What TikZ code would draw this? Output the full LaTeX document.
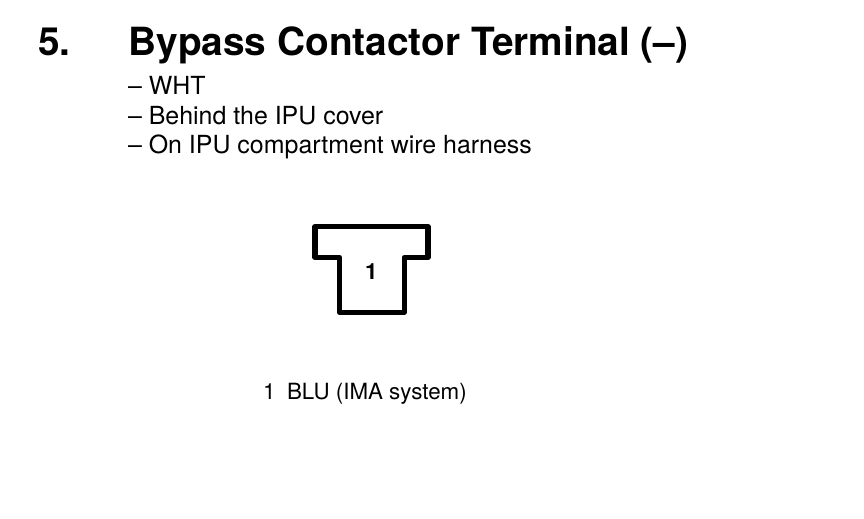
\documentclass[tikz,border=0pt]{standalone}
\usepackage{fontspec}
\setmainfont{TeX Gyre Heros}
\tikzset{px/.style={x=0.75pt,y=-0.75pt},
 lab/.style={anchor=base west,inner sep=0pt,outer sep=0pt,font=\fontsize{18.7pt}{22pt}\selectfont},
 small/.style={anchor=base west,inner sep=0pt,outer sep=0pt,font=\fontsize{16.75pt}{20pt}\selectfont},
 head/.style={anchor=base west,inner sep=0pt,outer sep=0pt,font=\fontsize{29.1pt}{33pt}\bfseries\selectfont}}
\begin{document}
\begin{tikzpicture}[px]
\useasboundingbox (0,0) rectangle (864,518);
\node[head] (num) at (38,55) {5.};
\node[head] (title) at (128.5,55) {Bypass Contactor Terminal (–)};
\node[lab] (l1) at (128,94.5) {– WHT};
\node[lab] (l2) at (128,124) {– Behind the IPU cover};
\node[lab] (l3) at (128,153) {– On IPU compartment wire harness};
\draw[line width=4pt,line join=round] (315,226.5) -- (428,226.5) -- (428,257.5) -- (404.2,257.5) -- (404.2,312.2) -- (339.5,312.2) -- (339.5,257.5) -- (315,257.5) -- cycle;
\node[small] (pin) at (365,279.5) {\bfseries 1};
\node[small] (pinnum) at (263,399) {1};
\node[small] (pinlab) at (287,399) {BLU (IMA system)};
\end{tikzpicture}
\end{document}
